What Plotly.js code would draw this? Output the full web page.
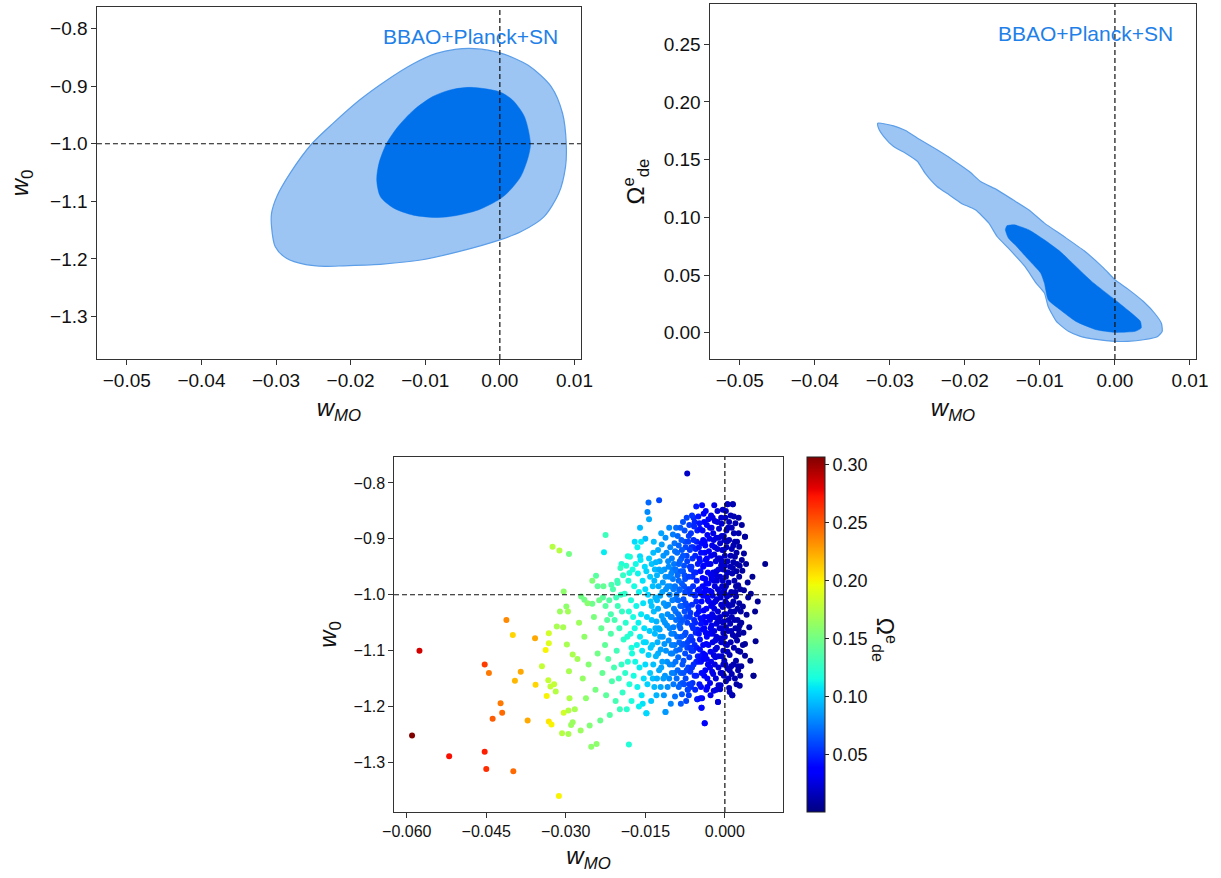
<!DOCTYPE html>
<html><head><meta charset="utf-8">
<script src="https://cdn.plot.ly/plotly-3.0.1.min.js"></script>
<style>html,body{margin:0;padding:0;background:#fff}#chart{width:1221px;height:878px}</style>
</head><body><div id="chart"></div>
<script>
// ---- contour data (top-left: w_MO vs w_0) ----
const leftOuterWmo = [-0.0034,0,0.0038,0.0069,0.0084,0.0089,0.0088,0.0079,0.0059,0.0028,0,-0.0054,-0.0106,-0.0157,-0.0209,-0.0234,-0.0260,-0.0286,-0.0301,-0.0306,-0.0306,-0.0299,-0.0281,-0.0252,-0.0224,-0.0188,-0.0152,-0.0116,-0.0085,-0.0060,-0.0034];
const leftOuterW0  = [-0.8347,-0.842,-0.8636,-0.901,-0.947,-1.0,-1.04,-1.086,-1.127,-1.153,-1.167,-1.187,-1.202,-1.209,-1.212,-1.213,-1.210,-1.199,-1.179,-1.144,-1.121,-1.092,-1.051,-1.0,-0.965,-0.924,-0.890,-0.861,-0.843,-0.836,-0.8347];
const leftInnerWmo = [-0.0039,0,0.0017,0.0033,0.0041,0.0038,0.0028,0.0012,0,-0.0029,-0.0060,-0.0083,-0.0116,-0.0142,-0.0160,-0.0165,-0.0162,-0.0152,-0.0137,-0.0116,-0.0090,-0.0065,-0.0039];
const leftInnerW0  = [-0.902,-0.910,-0.924,-0.953,-1.0,-1.023,-1.057,-1.083,-1.096,-1.115,-1.125,-1.128,-1.124,-1.112,-1.092,-1.063,-1.034,-1.0,-0.971,-0.942,-0.918,-0.906,-0.902];
// ---- contour data (top-right: w_MO vs Omega_de^e) ----
const rightOuterWmo = [-0.0316,-0.0295,-0.0279,-0.0263,-0.0237,-0.0216,-0.0194,-0.0179,-0.0157,-0.0136,-0.0115,-0.0094,-0.0068,-0.0041,-0.0015,0,0.0017,0.0038,0.0054,0.0062,0.0063,0.0057,0.0038,0.0017,0,-0.0025,-0.0046,-0.0062,-0.0078,-0.0089,-0.0094,-0.0105,-0.0120,-0.0142,-0.0157,-0.0168,-0.0186,-0.0205,-0.0221,-0.0237,-0.0253,-0.0263,-0.0279,-0.0295,-0.0308,-0.0315,-0.0316];
const rightOuterOm  = [0.1816,0.1793,0.1752,0.1686,0.1585,0.1498,0.1397,0.1311,0.1238,0.1152,0.1065,0.0950,0.0834,0.0710,0.0560,0.0459,0.0380,0.0270,0.0160,0.0080,0.0012,-0.0032,-0.0061,-0.0075,-0.0075,-0.0058,-0.0032,0.0012,0.0098,0.0228,0.0344,0.0430,0.0574,0.0733,0.0834,0.0950,0.1065,0.1123,0.1195,0.1267,0.1383,0.1484,0.1556,0.1614,0.1700,0.1772,0.1816];
const rightInnerWmo = [-0.0144,-0.0134,-0.0115,-0.0094,-0.0073,-0.0052,-0.0031,0,0.0022,0.0034,0.0035,0.0027,0,-0.0025,-0.0052,-0.0073,-0.0089,-0.0094,-0.0099,-0.0115,-0.0131,-0.0142,-0.0146,-0.0144];
const rightInnerOm  = [0.0927,0.0935,0.0892,0.0805,0.0704,0.0574,0.0445,0.0286,0.0170,0.0098,0.0040,0.0012,0.0003,0.0026,0.0098,0.0199,0.0286,0.0430,0.0517,0.0632,0.0748,0.0820,0.0892,0.0927];

// ---- scatter samples [w_MO, w_0, Omega_de^e] ----
const bandA = [[0.0076,-0.945,0.005],[0.0062,-1.012,0.006],[0.0058,-1.083,0.006],[0.0054,-1.145,0.005],[0.0049,-0.998,0.007],[0.0046,-1.058,0.007],[0.0043,-0.978,0.008],[0.0041,-1.036,0.008],[0.0038,-1.109,0.008],[0.0038,-1.088,0.008],[0.0038,-0.896,0.008],[0.0036,-0.926,0.009],[0.0034,-1.021,0.009],[0.0033,-0.957,0.009],[0.0031,-1.128,0.009],[0.0031,-1.050,0.009],[0.0028,-1.163,0.010],[0.0029,-0.990,0.010],[0.0027,-0.914,0.010],[0.0026,-1.071,0.010],[0.0048,-1.118,0.006],[0.0052,-0.968,0.006],[0.0044,-1.005,0.008],[0.0035,-1.068,0.009],[0.0032,-0.875,0.009],[0.0057,-1.030,0.006],[0.0040,-0.945,0.008]];
const bandB = [[0.0029,-1.102,0.010],[0.0028,-0.948,0.011],[0.0027,-1.015,0.011],[0.0026,-0.862,0.011],[0.0025,-1.135,0.011],[0.0025,-0.983,0.012],[0.0024,-1.045,0.012],[0.0023,-0.905,0.012],[0.0023,-1.082,0.012],[0.0022,-0.958,0.012],[0.0021,-1.118,0.012],[0.0021,-1.003,0.013],[0.0020,-0.872,0.013],[0.0020,-1.060,0.013],[0.0019,-0.932,0.013],[0.0019,-1.150,0.013],[0.0018,-0.975,0.013],[0.0018,-1.030,0.014],[0.0017,-1.095,0.014],[0.0017,-0.890,0.014],[0.0016,-0.942,0.014],[0.0016,-1.012,0.014],[0.0015,-0.838,0.014],[0.0015,-1.072,0.014],[0.0014,-1.180,0.014],[0.0014,-0.962,0.015],[0.0013,-1.040,0.015],[0.0013,-0.918,0.015],[0.0012,-1.128,0.015],[0.0012,-0.995,0.015],[0.0011,-1.085,0.015],[0.0011,-0.858,0.015],[0.0010,-0.950,0.016],[0.0010,-1.052,0.016],[0.0009,-1.174,0.016],[0.0009,-1.108,0.016],[0.0008,-1.167,0.016],[0.0008,-0.902,0.016],[0.0008,-1.020,0.016],[0.0007,-0.978,0.016],[0.0022,-0.925,0.012],[0.0026,-1.062,0.011],[0.0013,-1.142,0.015]];
const bandC = [[0.0006,-0.880,0.017],[0.0006,-1.065,0.017],[0.0005,-0.838,0.017],[0.0005,-0.940,0.017],[0.0005,-1.132,0.017],[0.0004,-1.003,0.018],[0.0004,-1.090,0.018],[0.0003,-0.915,0.018],[0.0003,-1.035,0.018],[0.0002,-0.968,0.018],[0.0002,-1.155,0.018],[0.0001,-0.862,0.018],[0.0001,-1.012,0.019],[0.0000,-1.075,0.019],[0.0000,-0.930,0.019],[-0.0001,-0.990,0.019],[-0.0001,-1.118,0.019],[-0.0002,-0.895,0.019],[-0.0002,-1.048,0.019],[-0.0003,-0.955,0.020],[-0.0003,-1.100,0.020],[-0.0004,-0.848,0.020],[-0.0004,-1.022,0.020],[-0.0005,-0.920,0.020],[-0.0005,-1.140,0.020],[-0.0005,-0.985,0.020],[-0.0006,-1.060,0.021],[-0.0006,-0.873,0.021],[-0.0007,-0.947,0.021],[-0.0007,-1.085,0.021],[-0.0008,-1.005,0.021],[-0.0008,-1.162,0.021],[-0.0009,-1.169,0.021],[-0.0009,-0.908,0.022],[-0.0009,-1.040,0.022],[0.0004,-0.960,0.018],[0.0001,-1.125,0.019],[-0.0002,-1.145,0.019],[0.0003,-0.885,0.018],[-0.0004,-0.975,0.020],[-0.0006,-1.110,0.021],[0.0006,-1.018,0.017],[-0.0001,-0.902,0.019],[0.0002,-1.058,0.018],[-0.0008,-0.935,0.021],[-0.0003,-1.068,0.020],[0.0000,-0.998,0.019],[-0.0007,-0.862,0.021]];
const bandD = [[-0.0010,-0.998,0.022],[-0.0011,-1.078,0.022],[-0.0011,-0.882,0.022],[-0.0012,-0.955,0.023],[-0.0012,-1.130,0.023],[-0.0013,-1.192,0.023],[-0.0013,-1.030,0.023],[-0.0014,-0.918,0.024],[-0.0014,-0.850,0.024],[-0.0015,-1.095,0.024],[-0.0015,-0.975,0.024],[-0.0016,-1.052,0.025],[-0.0016,-0.898,0.025],[-0.0017,-1.150,0.025],[-0.0017,-0.940,0.025],[-0.0018,-1.012,0.026],[-0.0018,-1.112,0.026],[-0.0019,-0.868,0.026],[-0.0019,-0.985,0.026],[-0.0020,-1.065,0.027],[-0.0020,-0.928,0.027],[-0.0021,-1.172,0.027],[-0.0021,-1.040,0.027],[-0.0022,-0.960,0.028],[-0.0022,-0.890,0.028],[-0.0023,-1.085,0.028],[-0.0023,-1.002,0.028],[-0.0024,-0.912,0.029],[-0.0024,-1.138,0.029],[-0.0025,-0.972,0.029],[-0.0025,-1.055,0.029],[-0.0026,-0.858,0.030],[-0.0026,-1.020,0.030],[-0.0027,-0.945,0.030],[-0.0027,-1.102,0.030],[-0.0028,-0.880,0.031],[-0.0028,-1.158,0.031],[-0.0029,-0.993,0.031],[-0.0029,-1.070,0.031],[-0.0030,-0.922,0.032],[-0.0012,-1.162,0.023],[-0.0016,-0.958,0.025],[-0.0019,-1.125,0.026],[-0.0021,-0.902,0.027],[-0.0024,-1.035,0.029],[-0.0027,-1.180,0.030],[-0.0013,-0.935,0.023],[-0.0018,-1.082,0.026],[-0.0022,-1.015,0.028],[-0.0025,-0.880,0.029],[-0.0028,-1.045,0.031],[-0.0015,-1.008,0.024],[-0.0020,-0.840,0.027],[-0.0026,-1.120,0.030],[-0.0011,-1.048,0.022]];
const bandE = [[-0.0031,-0.865,0.032],[-0.0031,-1.040,0.032],[-0.0032,-0.960,0.033],[-0.0032,-1.125,0.033],[-0.0033,-0.893,0.033],[-0.0033,-1.005,0.034],[-0.0034,-1.075,0.034],[-0.0034,-0.935,0.034],[-0.0035,-1.170,0.035],[-0.0035,-0.980,0.035],[-0.0036,-0.850,0.035],[-0.0036,-1.050,0.036],[-0.0037,-0.912,0.036],[-0.0037,-1.108,0.036],[-0.0038,-1.230,0.037],[-0.0038,-0.995,0.037],[-0.0039,-0.870,0.037],[-0.0039,-1.145,0.038],[-0.0040,-0.948,0.038],[-0.0040,-1.028,0.038],[-0.0041,-1.090,0.039],[-0.0041,-0.902,0.039],[-0.0042,-0.970,0.039],[-0.0042,-1.062,0.040],[-0.0043,-0.840,0.040],[-0.0043,-1.185,0.040],[-0.0044,-1.202,0.041],[-0.0044,-1.012,0.041],[-0.0045,-0.925,0.041],[-0.0045,-1.120,0.042],[-0.0046,-0.958,0.042],[-0.0046,-1.042,0.042],[-0.0047,-0.882,0.043],[-0.0047,-1.098,0.043],[-0.0048,-0.990,0.043],[-0.0048,-1.160,0.044],[-0.0049,-0.915,0.044],[-0.0049,-1.070,0.044],[-0.0050,-0.860,0.045],[-0.0050,-1.022,0.045],[-0.0033,-1.150,0.034],[-0.0036,-0.938,0.036],[-0.0039,-1.060,0.038],[-0.0042,-0.885,0.040],[-0.0044,-1.140,0.041],[-0.0047,-0.940,0.043],[-0.0035,-1.088,0.035],[-0.0038,-0.905,0.037],[-0.0041,-1.002,0.039],[-0.0045,-1.052,0.042],[-0.0048,-0.872,0.044],[-0.0032,-1.010,0.033],[-0.0040,-1.115,0.038],[-0.0046,-1.185,0.042],[-0.0037,-0.972,0.036]];
const bandF = [[-0.0051,-0.945,0.045],[-0.0051,-1.110,0.046],[-0.0052,-1.187,0.046],[-0.0052,-0.885,0.046],[-0.0053,-1.035,0.047],[-0.0053,-0.975,0.047],[-0.0054,-1.145,0.048],[-0.0054,-0.842,0.047],[-0.0055,-1.068,0.048],[-0.0055,-0.918,0.048],[-0.0056,-1.002,0.049],[-0.0056,-1.170,0.049],[-0.0057,-0.870,0.049],[-0.0057,-1.090,0.050],[-0.0058,-0.960,0.050],[-0.0058,-1.045,0.050],[-0.0059,-0.902,0.051],[-0.0059,-1.125,0.051],[-0.0060,-0.985,0.052],[-0.0060,-1.060,0.052],[-0.0061,-0.935,0.052],[-0.0061,-1.158,0.053],[-0.0062,-0.858,0.053],[-0.0062,-1.018,0.053],[-0.0063,-1.100,0.054],[-0.0063,-0.950,0.054],[-0.0064,-0.890,0.054],[-0.0064,-1.075,0.055],[-0.0065,-0.998,0.055],[-0.0065,-1.138,0.055],[-0.0066,-0.920,0.056],[-0.0066,-1.040,0.056],[-0.0067,-0.875,0.056],[-0.0067,-1.112,0.057],[-0.0068,-0.968,0.057],[-0.0068,-1.180,0.057],[-0.0069,-1.025,0.058],[-0.0069,-0.905,0.058],[-0.0070,-1.170,0.058],[-0.0070,-1.085,0.058],[-0.0071,-0.783,0.020],[-0.0054,-1.012,0.048],[-0.0058,-0.878,0.050],[-0.0061,-1.082,0.052],[-0.0064,-0.955,0.054],[-0.0067,-1.160,0.056],[-0.0056,-0.930,0.049],[-0.0062,-1.130,0.053],[-0.0066,-0.990,0.056],[-0.0053,-1.095,0.047]];
const bandG = [[-0.0071,-0.940,0.058],[-0.0071,-1.050,0.059],[-0.0072,-0.862,0.059],[-0.0072,-1.135,0.059],[-0.0073,-0.995,0.060],[-0.0073,-1.190,0.060],[-0.0074,-0.915,0.060],[-0.0074,-1.068,0.061],[-0.0075,-0.972,0.061],[-0.0075,-1.105,0.061],[-0.0076,-0.885,0.062],[-0.0076,-1.030,0.062],[-0.0077,-1.160,0.062],[-0.0077,-0.948,0.063],[-0.0078,-1.008,0.063],[-0.0078,-1.088,0.063],[-0.0079,-0.870,0.064],[-0.0079,-0.930,0.064],[-0.0080,-1.125,0.064],[-0.0080,-1.045,0.065],[-0.0081,-0.980,0.065],[-0.0081,-1.178,0.065],[-0.0082,-0.902,0.066],[-0.0082,-1.075,0.066],[-0.0083,-0.958,0.066],[-0.0083,-1.140,0.067],[-0.0084,-1.020,0.067],[-0.0084,-0.880,0.067],[-0.0085,-1.098,0.068],[-0.0085,-0.940,0.068],[-0.0086,-1.055,0.068],[-0.0086,-0.992,0.069],[-0.0087,-1.165,0.069],[-0.0087,-0.912,0.069],[-0.0088,-1.035,0.070],[-0.0088,-1.112,0.070],[-0.0089,-0.965,0.070],[-0.0089,-0.895,0.070],[-0.0074,-1.015,0.060],[-0.0078,-1.140,0.063],[-0.0081,-0.920,0.065],[-0.0084,-1.060,0.067],[-0.0087,-0.975,0.069],[-0.0076,-0.965,0.062],[-0.0083,-1.195,0.066]];
const bandH = [[-0.0090,-1.075,0.071],[-0.0090,-0.925,0.071],[-0.0091,-1.150,0.071],[-0.0091,-1.000,0.072],[-0.0092,-0.880,0.072],[-0.0092,-1.045,0.072],[-0.0093,-1.120,0.073],[-0.0093,-0.955,0.073],[-0.0094,-1.182,0.073],[-0.0094,-0.985,0.074],[-0.0095,-0.908,0.074],[-0.0095,-1.090,0.074],[-0.0096,-1.025,0.075],[-0.0096,-0.945,0.075],[-0.0097,-1.160,0.075],[-0.0097,-1.058,0.076],[-0.0098,-0.972,0.076],[-0.0098,-0.892,0.076],[-0.0099,-1.105,0.077],[-0.0099,-1.010,0.077],[-0.0100,-0.935,0.077],[-0.0100,-1.140,0.078],[-0.0101,-1.070,0.078],[-0.0101,-0.962,0.078],[-0.0102,-1.040,0.079],[-0.0102,-1.195,0.079],[-0.0103,-0.915,0.079],[-0.0104,-1.000,0.080],[-0.0104,-1.125,0.080],[-0.0105,-0.880,0.080],[-0.0106,-1.082,0.081],[-0.0106,-0.950,0.081],[-0.0107,-1.018,0.081],[-0.0108,-1.165,0.082],[-0.0108,-0.985,0.082],[-0.0109,-1.055,0.082],[-0.0110,-0.925,0.082],[-0.0112,-1.210,0.085],[-0.0093,-1.030,0.073],[-0.0100,-1.090,0.077],[-0.0105,-0.968,0.080]];
const bandI = [[-0.0111,-1.100,0.083],[-0.0111,-0.990,0.083],[-0.0112,-0.898,0.083],[-0.0113,-1.050,0.084],[-0.0113,-1.145,0.084],[-0.0114,-0.955,0.084],[-0.0115,-1.015,0.085],[-0.0115,-1.180,0.085],[-0.0116,-0.930,0.085],[-0.0117,-1.075,0.086],[-0.0117,-0.978,0.086],[-0.0118,-1.120,0.087],[-0.0119,-1.038,0.087],[-0.0119,-0.910,0.087],[-0.0120,-0.958,0.088],[-0.0121,-1.098,0.088],[-0.0121,-1.165,0.089],[-0.0122,-1.002,0.089],[-0.0123,-0.940,0.089],[-0.0123,-1.062,0.090],[-0.0124,-0.831,0.060],[-0.0124,-1.135,0.090],[-0.0125,-0.985,0.091],[-0.0126,-1.025,0.091],[-0.0126,-0.920,0.091],[-0.0127,-1.085,0.092],[-0.0128,-1.150,0.092],[-0.0128,-0.965,0.093],[-0.0129,-1.048,0.093],[-0.0130,-0.942,0.094],[-0.0130,-1.110,0.094],[-0.0116,-1.150,0.086],[-0.0120,-0.890,0.088],[-0.0125,-1.060,0.091],[-0.0129,-1.180,0.093]];
const bandJ = [[-0.0131,-1.005,0.094],[-0.0132,-1.070,0.095],[-0.0132,-0.955,0.095],[-0.0133,-1.165,0.095],[-0.0134,-1.030,0.096],[-0.0135,-0.925,0.096],[-0.0135,-1.125,0.097],[-0.0136,-0.985,0.097],[-0.0137,-1.090,0.098],[-0.0138,-1.045,0.098],[-0.0138,-0.945,0.098],[-0.0139,-1.190,0.099],[-0.0140,-1.012,0.099],[-0.0141,-1.140,0.100],[-0.0141,-0.968,0.100],[-0.0142,-1.065,0.100],[-0.0143,-0.935,0.101],[-0.0144,-1.108,0.101],[-0.0144,-0.835,0.070],[-0.0145,-1.000,0.102],[-0.0146,-0.852,0.080],[-0.0146,-1.160,0.102],[-0.0143,-0.865,0.090],[-0.0147,-1.040,0.103],[-0.0148,-0.958,0.103],[-0.0148,-1.212,0.104],[-0.0149,-1.085,0.104],[-0.0150,-1.125,0.105],[-0.0150,-0.990,0.105],[-0.0134,-0.905,0.096]];
const bandK = [[-0.0151,-0.950,0.105],[-0.0152,-1.060,0.106],[-0.0153,-1.150,0.106],[-0.0154,-1.015,0.107],[-0.0155,-0.975,0.107],[-0.0156,-1.100,0.108],[-0.0157,-1.180,0.108],[-0.0158,-1.035,0.109],[-0.0159,-0.938,0.109],[-0.0160,-1.075,0.110],[-0.0161,-1.130,0.110],[-0.0162,-0.995,0.111],[-0.0163,-1.050,0.111],[-0.0164,-0.962,0.112],[-0.0165,-1.165,0.112],[-0.0166,-1.090,0.113],[-0.0167,-1.020,0.113],[-0.0168,-0.945,0.114],[-0.0169,-1.120,0.114],[-0.0170,-1.060,0.115],[-0.0155,-1.195,0.107],[-0.0158,-0.905,0.109],[-0.0162,-1.200,0.111],[-0.0165,-0.915,0.112],[-0.0153,-1.085,0.106]];
const bandL = [[-0.0171,-0.985,0.115],[-0.0172,-1.145,0.116],[-0.0173,-1.040,0.116],[-0.0174,-0.955,0.117],[-0.0175,-1.105,0.117],[-0.0176,-1.190,0.118],[-0.0177,-1.010,0.118],[-0.0178,-1.070,0.119],[-0.0179,-0.932,0.119],[-0.0180,-1.160,0.120],[-0.0181,-1.030,0.120],[-0.0182,-0.975,0.121],[-0.0183,-1.120,0.121],[-0.0184,-1.075,0.122],[-0.0185,-1.205,0.122],[-0.0186,-0.948,0.123],[-0.0187,-1.050,0.123],[-0.0188,-1.140,0.124],[-0.0181,-1.268,0.120],[-0.0189,-0.998,0.124],[-0.0176,-1.095,0.118]];
const bandM = [[-0.0191,-1.080,0.125],[-0.0192,-0.965,0.126],[-0.0193,-1.175,0.126],[-0.0194,-1.030,0.127],[-0.0195,-1.125,0.127],[-0.0196,-1.000,0.128],[-0.0197,-0.952,0.128],[-0.0198,-1.205,0.129],[-0.0199,-1.060,0.129],[-0.0200,-1.150,0.130],[-0.0202,-1.020,0.131],[-0.0203,-0.975,0.131],[-0.0204,-1.100,0.132],[-0.0206,-1.190,0.133],[-0.0208,-1.045,0.134],[-0.0209,-1.130,0.134]];
const bandN = [[-0.0211,-0.990,0.135],[-0.0213,-1.155,0.136],[-0.0215,-1.070,0.137],[-0.0217,-1.215,0.138],[-0.0218,-1.010,0.139],[-0.0220,-1.115,0.140],[-0.0222,-1.045,0.141],[-0.0224,-1.180,0.142],[-0.0225,-0.893,0.130],[-0.0228,-0.924,0.110],[-0.0226,-1.090,0.143],[-0.0229,-0.985,0.144]];
const bandO = [[-0.0231,-1.140,0.145],[-0.0233,-1.060,0.146],[-0.0235,-1.225,0.147],[-0.0237,-1.010,0.148],[-0.0240,-1.105,0.150],[-0.0242,-1.267,0.160],[-0.0244,-1.170,0.152],[-0.0247,-1.040,0.153],[-0.0250,-0.975,0.155],[-0.0252,-1.272,0.160],[-0.0255,-1.234,0.156],[-0.0257,-1.125,0.157],[-0.0259,-1.015,0.158]];
const bandP = [[-0.0262,-1.185,0.160],[-0.0265,-1.075,0.161],[-0.0268,-1.150,0.163],[-0.0272,-1.243,0.165],[-0.0275,-1.050,0.166],[-0.0278,-1.115,0.168],[-0.0283,-1.205,0.170],[-0.0287,-1.228,0.165],[-0.0287,-1.107,0.171],[-0.0290,-1.233,0.165],[-0.0293,-1.185,0.173],[-0.0296,-1.030,0.168]];
const bandExtra = [[-0.0183,-0.931,0.115],[-0.0160,-0.931,0.105],[-0.0180,-0.961,0.118],[-0.0243,-0.966,0.140],[-0.0240,-0.985,0.142],[-0.0214,-0.982,0.135],[-0.0202,-0.979,0.130],[-0.0271,-1.003,0.150],[-0.0265,-1.009,0.150],[-0.0250,-1.016,0.148],[-0.0230,-1.005,0.140],[-0.0195,-0.945,0.120],[-0.0170,-0.905,0.105],[-0.0160,-0.880,0.095],[-0.0150,-0.900,0.095],[-0.0205,-1.005,0.130],[-0.0215,-1.035,0.135],[-0.0225,-1.020,0.140]];
const coreRight = [[0.0036,-0.992,0.009],[0.0034,-1.090,0.009],[0.0032,-0.938,0.009],[0.0030,-1.030,0.010],[0.0029,-1.145,0.010],[0.0027,-0.968,0.010],[0.0026,-0.890,0.011],[0.0025,-1.100,0.011],[0.0024,-1.025,0.012],[0.0023,-0.945,0.012],[0.0022,-1.160,0.012],[0.0021,-0.985,0.013],[0.0020,-1.075,0.013],[0.0019,-0.905,0.013],[0.0018,-1.045,0.014],[0.0017,-0.860,0.014],[0.0016,-1.125,0.014],[0.0015,-0.952,0.014],[0.0014,-1.018,0.015],[0.0013,-0.880,0.015],[0.0012,-1.065,0.015],[0.0011,-0.930,0.015],[0.0010,-1.000,0.016],[0.0009,-1.135,0.016],[0.0008,-0.870,0.016],[0.0007,-1.045,0.016],[0.0006,-0.960,0.017],[0.0005,-1.102,0.017],[0.0004,-0.905,0.018],[0.0003,-1.015,0.018],[0.0002,-0.850,0.018],[0.0001,-1.088,0.019],[0.0000,-0.948,0.019],[-0.0001,-1.035,0.019],[-0.0002,-0.920,0.019],[-0.0003,-1.125,0.020],[-0.0004,-0.995,0.020],[-0.0005,-1.078,0.020],[-0.0006,-0.895,0.021],[-0.0007,-1.018,0.021],[-0.0008,-1.140,0.021],[-0.0009,-0.968,0.022],[0.0020,-0.995,0.013],[0.0011,-1.030,0.015],[0.0002,-0.985,0.018],[-0.0006,-0.940,0.021],[0.0016,-0.912,0.014],[0.0007,-1.150,0.016],[-0.0003,-1.050,0.020],[0.0028,-1.055,0.010]];
const coreMidRight = [[-0.0010,-1.060,0.022],[-0.0011,-0.935,0.022],[-0.0012,-1.110,0.023],[-0.0013,-0.990,0.023],[-0.0014,-0.870,0.024],[-0.0015,-1.042,0.024],[-0.0016,-1.170,0.025],[-0.0017,-0.965,0.025],[-0.0018,-1.098,0.026],[-0.0019,-0.915,0.026],[-0.0020,-1.025,0.027],[-0.0021,-0.975,0.027],[-0.0022,-1.142,0.028],[-0.0023,-0.862,0.028],[-0.0024,-1.070,0.029],[-0.0025,-0.995,0.029],[-0.0026,-0.930,0.030],[-0.0027,-1.060,0.030],[-0.0028,-1.130,0.031],[-0.0029,-0.900,0.031],[-0.0030,-1.012,0.032],[-0.0031,-1.090,0.032],[-0.0032,-0.945,0.033],[-0.0033,-1.165,0.033],[-0.0034,-0.875,0.034],[-0.0035,-1.025,0.035],[-0.0036,-0.990,0.036],[-0.0037,-1.135,0.036],[-0.0038,-0.925,0.037],[-0.0039,-1.040,0.038],[-0.0040,-0.855,0.038],[-0.0041,-1.105,0.039],[-0.0042,-0.985,0.039],[-0.0043,-1.045,0.040],[-0.0044,-0.908,0.041],[-0.0045,-1.165,0.041],[-0.0046,-0.998,0.042],[-0.0047,-1.080,0.043],[-0.0048,-0.935,0.043],[-0.0049,-1.030,0.044],[-0.0050,-1.120,0.045],[-0.0016,-1.075,0.025],[-0.0021,-1.108,0.027],[-0.0026,-0.965,0.030],[-0.0031,-0.980,0.032],[-0.0036,-1.068,0.036],[-0.0041,-0.950,0.039],[-0.0046,-1.110,0.042],[-0.0012,-0.898,0.023],[-0.0034,-1.115,0.034]];
const coreMidLeft = [[-0.0051,-0.992,0.045],[-0.0052,-1.062,0.046],[-0.0053,-0.905,0.047],[-0.0054,-1.120,0.048],[-0.0055,-0.960,0.048],[-0.0056,-1.050,0.049],[-0.0057,-1.145,0.050],[-0.0058,-1.000,0.050],[-0.0059,-0.862,0.051],[-0.0060,-1.100,0.052],[-0.0061,-0.968,0.052],[-0.0062,-1.055,0.053],[-0.0063,-0.915,0.054],[-0.0064,-1.165,0.054],[-0.0065,-1.032,0.055],[-0.0066,-0.950,0.056],[-0.0067,-1.080,0.056],[-0.0068,-0.895,0.057],[-0.0069,-1.130,0.058],[-0.0070,-0.990,0.058],[-0.0071,-1.095,0.059],[-0.0072,-0.930,0.059],[-0.0073,-1.040,0.060],[-0.0074,-1.150,0.060],[-0.0075,-0.905,0.061],[-0.0076,-1.072,0.062],[-0.0077,-0.985,0.062],[-0.0078,-1.118,0.063],[-0.0079,-0.958,0.064],[-0.0080,-1.020,0.064],[-0.0081,-1.090,0.065],[-0.0082,-0.935,0.066],[-0.0083,-1.050,0.066],[-0.0084,-1.160,0.067],[-0.0085,-0.990,0.068],[-0.0086,-1.085,0.068],[-0.0087,-0.945,0.069],[-0.0088,-1.010,0.070],[-0.0089,-1.135,0.070],[-0.0060,-0.915,0.052],[-0.0065,-1.095,0.055],[-0.0070,-1.020,0.058],[-0.0075,-0.995,0.061],[-0.0080,-1.158,0.064],[-0.0085,-1.040,0.068]];
const coreLeft = [[-0.0091,-0.958,0.072],[-0.0092,-1.100,0.072],[-0.0093,-1.008,0.073],[-0.0094,-0.922,0.074],[-0.0095,-1.140,0.074],[-0.0096,-1.070,0.075],[-0.0097,-0.990,0.076],[-0.0098,-1.125,0.076],[-0.0099,-0.955,0.077],[-0.0100,-1.040,0.077],[-0.0102,-1.105,0.079],[-0.0103,-0.985,0.079],[-0.0104,-1.060,0.080],[-0.0105,-1.150,0.080],[-0.0107,-0.940,0.081],[-0.0108,-1.035,0.082],[-0.0109,-1.120,0.082],[-0.0111,-1.020,0.083],[-0.0112,-0.968,0.083],[-0.0114,-1.088,0.084],[-0.0116,-1.045,0.085],[-0.0118,-0.995,0.087],[-0.0120,-1.130,0.088],[-0.0122,-1.075,0.089],[-0.0124,-0.955,0.090],[-0.0126,-1.105,0.091],[-0.0128,-1.010,0.093],[-0.0131,-1.060,0.094],[-0.0133,-0.975,0.095],[-0.0136,-1.150,0.097],[-0.0138,-1.020,0.098],[-0.0140,-1.095,0.099]];
const outliers = [[-0.0325,-0.914,0.175],[-0.0312,-0.921,0.175],[-0.0294,-0.927,0.150],[-0.0304,-0.994,0.160],[-0.0299,-1.021,0.160],[-0.0311,-1.030,0.165],[-0.0412,-1.045,0.235],[-0.0400,-1.072,0.210],[-0.0358,-1.078,0.225],[-0.0332,-1.069,0.185],[-0.0317,-1.057,0.170],[-0.0305,-1.058,0.170],[-0.0332,-1.087,0.190],[-0.0338,-1.099,0.200],[-0.0298,-1.089,0.170],[-0.0576,-1.100,0.285],[-0.0453,-1.125,0.260],[-0.0445,-1.140,0.240],[-0.0385,-1.138,0.225],[-0.0396,-1.154,0.220],[-0.0357,-1.161,0.210],[-0.0345,-1.128,0.180],[-0.0333,-1.153,0.180],[-0.0329,-1.164,0.180],[-0.0322,-1.160,0.180],[-0.0319,-1.173,0.175],[-0.0336,-1.181,0.200],[-0.0294,-1.137,0.170],[-0.0423,-1.194,0.240],[-0.0420,-1.211,0.245],[-0.0438,-1.222,0.250],[-0.0372,-1.225,0.225],[-0.0332,-1.227,0.205],[-0.0327,-1.232,0.200],[-0.0304,-1.211,0.185],[-0.0295,-1.207,0.175],[-0.0307,-1.248,0.175],[-0.0295,-1.249,0.170],[-0.0590,-1.252,0.307],[-0.0520,-1.289,0.275],[-0.0453,-1.281,0.270],[-0.0450,-1.312,0.265],[-0.0399,-1.316,0.245],[-0.0313,-1.360,0.200],[-0.0148,-1.212,0.100],[-0.0112,-1.210,0.090],[-0.0038,-1.230,0.050],[-0.0044,-1.202,0.045],[-0.0052,-1.187,0.045],[-0.0013,-1.192,0.030],[0.0014,-1.180,0.020],[0.0054,-1.145,0.010],[0.0025,-1.128,0.015],[-0.0070,-1.170,0.065],[0.0005,-0.838,0.010],[0.0015,-0.838,0.010],[0.0038,-0.896,0.012]];

// ---- axis ticks ----
const topWmoTicks = [-0.05,-0.04,-0.03,-0.02,-0.01,0.00,0.01];
const topW0Ticks = [-0.8,-0.9,-1.0,-1.1,-1.2,-1.3];
const topOmTicks = [0.00,0.05,0.10,0.15,0.20,0.25];
const botWmoTicks = [-0.060,-0.045,-0.030,-0.015,0.000];
const cbTicks = [0.05,0.10,0.15,0.20,0.25,0.30];

const cloud = [].concat(outliers,bandExtra,bandP,bandO,bandN,bandM,bandL,bandK,bandJ,coreLeft,bandI,bandH,coreMidLeft,bandG,bandF,coreMidRight,bandE,bandD,coreRight,bandC,bandB,bandA);
const sx = cloud.map(p=>p[0]), sy = cloud.map(p=>p[1]), sc = cloud.map(p=>p[2]);

const jet = [[0,'rgb(0,0,128)'],[0.11,'rgb(0,0,255)'],[0.125,'rgb(0,0,255)'],[0.34,'rgb(0,219,255)'],[0.35,'rgb(0,230,247)'],[0.375,'rgb(21,255,226)'],[0.64,'rgb(239,255,8)'],[0.65,'rgb(247,245,0)'],[0.66,'rgb(255,236,0)'],[0.89,'rgb(255,19,0)'],[0.91,'rgb(232,0,0)'],[1,'rgb(128,0,0)']];

const LIGHT = 'rgb(156,197,244)', DARK = 'rgb(0,112,235)', EDGE = 'rgb(92,158,232)', TXT = 'rgb(30,128,232)';
const FONT = 'Liberation Sans, Arial, sans-serif';

const traces = [
  {x:leftOuterWmo, y:leftOuterW0, xaxis:'x', yaxis:'y', mode:'lines', fill:'toself', fillcolor:LIGHT, line:{color:EDGE,width:1.2,shape:'spline',smoothing:0.8}, hoverinfo:'skip', showlegend:false},
  {x:leftInnerWmo, y:leftInnerW0, xaxis:'x', yaxis:'y', mode:'lines', fill:'toself', fillcolor:DARK, line:{color:DARK,width:0.5,shape:'spline',smoothing:0.8}, hoverinfo:'skip', showlegend:false},
  {x:rightOuterWmo, y:rightOuterOm, xaxis:'x2', yaxis:'y2', mode:'lines', fill:'toself', fillcolor:LIGHT, line:{color:EDGE,width:1.2,shape:'spline',smoothing:0.5}, hoverinfo:'skip', showlegend:false},
  {x:rightInnerWmo, y:rightInnerOm, xaxis:'x2', yaxis:'y2', mode:'lines', fill:'toself', fillcolor:DARK, line:{color:DARK,width:0.5,shape:'spline',smoothing:0.5}, hoverinfo:'skip', showlegend:false},
  {x:sx, y:sy, xaxis:'x3', yaxis:'y3', mode:'markers', type:'scatter', showlegend:false,
   marker:{size:6, color:sc, colorscale:jet, cmin:0.0005, cmax:0.307, line:{width:0},
     showscale:true,
     colorbar:{x:0.6607, xanchor:'left', xref:'paper', y:0.0755, yanchor:'bottom', yref:'paper', len:355, lenmode:'pixels', thickness:18, thicknessmode:'pixels', xpad:0, ypad:0, outlinewidth:1, outlinecolor:'#222', ticks:'outside', ticklen:4, tickcolor:'#222', tickvals:cbTicks, tickformat:'.2f', tickfont:{family:FONT,size:18,color:'#111'}}}}
];

function ax(extra){
  return Object.assign({showgrid:false, zeroline:false, showline:true, mirror:true, linecolor:'#333', linewidth:1.1, ticks:'outside', ticklen:4.5, tickwidth:1, tickcolor:'#333', tickfont:{family:FONT,size:19,color:'#111'}}, extra);
}
const titleFont = {family:FONT, size:24, color:'#111'};
const layout = {
  width:1221, height:878, margin:{l:0,r:0,t:0,b:0}, paper_bgcolor:'#fff', plot_bgcolor:'#fff', showlegend:false,
  font:{family:FONT,color:'#111'},
  xaxis: ax({domain:[0.0794,0.4758], anchor:'y', range:[-0.0540,0.01087], tickvals:topWmoTicks, tickformat:'.2f', title:{text:'<i>w</i><sub><i>MO</i></sub>', font:titleFont, standoff:8}}),
  yaxis: ax({domain:[0.5911,0.992], anchor:'x', range:[-1.374,-0.7624], tickvals:topW0Ticks, tickformat:'.1f', title:{text:'<i>w</i><sub>0</sub>', font:titleFont, standoff:14}}),
  xaxis2: ax({domain:[0.5815,0.9795], anchor:'y2', range:[-0.05396,0.0108], tickvals:topWmoTicks, tickformat:'.2f', title:{text:'<i>w</i><sub><i>MO</i></sub>', font:titleFont, standoff:8}}),
  yaxis2: ax({domain:[0.5911,0.9954], anchor:'x2', range:[-0.0228,0.2849], tickvals:topOmTicks, tickformat:'.2f', title:{text:'Ω<sup>e</sup><sub>de</sub>', font:titleFont, standoff:12}}),
  xaxis3: ax({domain:[0.3227,0.6413], anchor:'y3', range:[-0.0624,0.01097], tickvals:botWmoTicks, tickformat:'.3f', tickfont:{family:FONT,size:16,color:'#111'}, title:{text:'<i>w</i><sub><i>MO</i></sub>', font:titleFont, standoff:8}}),
  yaxis3: ax({domain:[0.0752,0.4795], anchor:'x3', range:[-1.3887,-0.7535], tickvals:topW0Ticks, tickformat:'.1f', tickfont:{family:FONT,size:16,color:'#111'}, title:{text:'<i>w</i><sub>0</sub>', font:titleFont, standoff:10}}),
  shapes:[
    {type:'line', xref:'x', yref:'y domain', x0:0, x1:0, y0:0, y1:1, line:{color:'#111',width:1.2,dash:'5px,3px'}},
    {type:'line', xref:'x domain', yref:'y', x0:0, x1:1, y0:-1, y1:-1, line:{color:'#111',width:1.2,dash:'5px,3px'}},
    {type:'line', xref:'x2', yref:'y2 domain', x0:0, x1:0, y0:0, y1:1, line:{color:'#111',width:1.2,dash:'5px,3px'}},
    {type:'line', xref:'x3', yref:'y3 domain', x0:0, x1:0, y0:0, y1:1, line:{color:'#111',width:1.2,dash:'5px,3px'}},
    {type:'line', xref:'x3 domain', yref:'y3', x0:0, x1:1, y0:-1, y1:-1, line:{color:'#111',width:1.2,dash:'5px,3px'}}
  ],
  annotations:[
    {text:'BBAO+Planck+SN', xref:'paper', yref:'paper', x:0.4586, y:0.958, xanchor:'right', yanchor:'middle', showarrow:false, font:{family:FONT,size:21,color:TXT}},
    {text:'BBAO+Planck+SN', xref:'paper', yref:'paper', x:0.9623, y:0.9624, xanchor:'right', yanchor:'middle', showarrow:false, font:{family:FONT,size:21,color:TXT}},
    {text:'Ω<sup>e</sup><sub>de</sub>', xref:'paper', yref:'paper', x:0.725, y:0.271, xanchor:'center', yanchor:'middle', textangle:90, showarrow:false, font:{family:FONT,size:23,color:'#111'}}
  ]
};
Plotly.newPlot('chart', traces, layout, {staticPlot:true, displayModeBar:false});
</script>
</body></html>
